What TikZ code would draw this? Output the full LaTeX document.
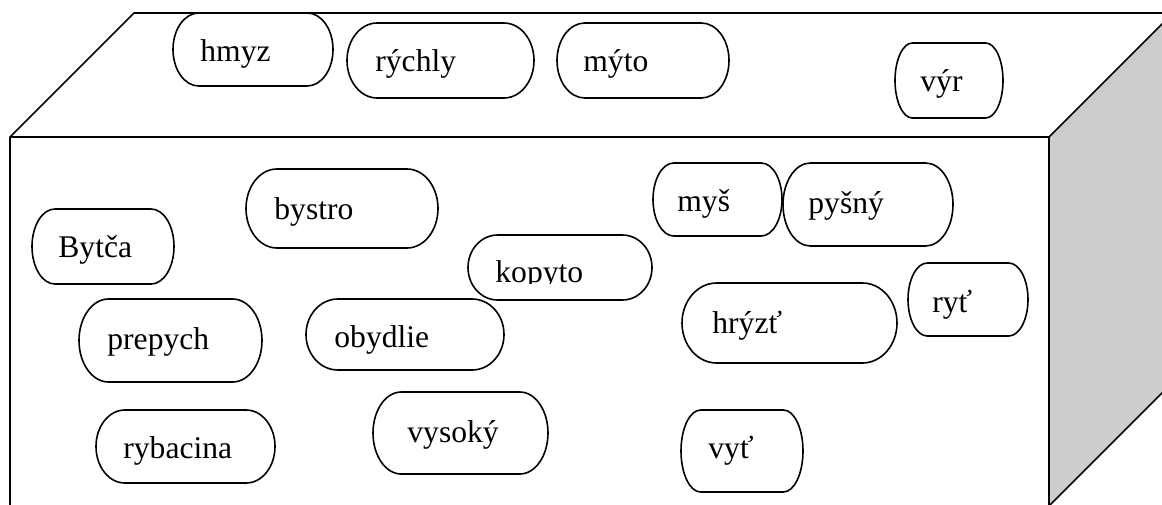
\documentclass[tikz,border=0pt]{standalone}
\usepackage{fontspec}
\setmainfont{Liberation Serif}
\usetikzlibrary{calc}
\tikzset{
  edge/.style={line width=0.8pt, line join=miter},
  sidegrey/.style={fill=black!20},
  termline/.style={line width=0.8pt},
  termbox/.style={inner sep=0pt, outer sep=0pt, draw=none, anchor=north west},
  wordtext/.style={inner sep=0pt, anchor=base west, font=\fontsize{15.8pt}{19pt}\selectfont},
}
% terminator outline around a named node
\newcommand\drawterm[1]{%
  \draw[termline] let \p1=(#1.north west), \p2=(#1.south east),
     \n1={0.161*(\x2-\x1)}, \n2={0.5*(\y1-\y2)} in
     ({\x1+\n1},\y1) -- ({\x2-\n1},\y1)
     arc[start angle=90, end angle=-90, x radius={\n1*1pt}, y radius={\n2*1pt}]
     -- ({\x1+\n1},\y2)
     arc[start angle=270, end angle=90, x radius={\n1*1pt}, y radius={\n2*1pt}]
     -- cycle;}
% name, x1, y1, x2, y2, text x, text baseline y, text
\newcommand\wordbox[8]{%
  \node[termbox, minimum width={0.5pt*(#4-#2)}, minimum height={0.5pt*(#5-#3)}] (#1) at (#2,#3) {};
  \drawterm{#1}
  \node[wordtext] (#1-t) at (#6,#7) {#8};}
\begin{document}
\begin{tikzpicture}[x=0.5pt,y=-0.5pt]
\useasboundingbox (0,0) rectangle (1162,504);
\clip (0,0) rectangle (1162,504);
% the box
\coordinate (FTL) at (10,137);
\coordinate (FTR) at (1049,137);
\coordinate (FBL) at (10,520);
\coordinate (FBR) at (1049,506);
\coordinate (BTL) at (134,13);
\coordinate (BTR) at (1173,13);
\coordinate (BBR) at (1173,382);
\fill[sidegrey] (FTR) -- (BTR) -- (BBR) -- (FBR) -- cycle;
\draw[edge] (FBL) -- (FTL) -- (BTL) -- (BTR);
\draw[edge] (FTL) -- (FTR) -- (BTR);
\draw[edge] (FTR) -- (FBR) -- (BBR);
% words on the top face
\wordbox{hmyz}{173}{13}{333}{86}{200}{61}{hmyz}
\wordbox{rychly}{347}{23}{534}{98}{375}{71}{rýchly}
\wordbox{myto}{557}{23}{729}{98}{583}{71}{mýto}
\wordbox{vyr}{895}{43}{1003}{118}{920}{91}{výr}
% words on the front face
\wordbox{bytca}{32}{209}{174}{284}{58}{257}{Bytča}
\wordbox{bystro}{246}{169}{438}{248}{274}{219}{bystro}
\node[termbox, minimum width={0.5pt*184}, minimum height={0.5pt*65}] (kopyto) at (468,235) {};
\drawterm{kopyto}
\begin{scope}
  \clip (0,0) rectangle (1162,283);
  \node[wordtext] (kopyto-t) at (495,282) {kopyto};
\end{scope}
\wordbox{mys}{653}{163}{782}{236}{677}{211}{myš}
\wordbox{pysny}{783}{163}{953}{246}{808}{213}{pyšný}
\wordbox{ryt}{908}{263}{1028}{336}{932}{312}{ryť}
\wordbox{hryzt}{682}{283}{897}{363}{712}{333}{hrýzť}
\wordbox{prepych}{79}{299}{262}{382}{107}{349}{prepych}
\wordbox{obydlie}{306}{299}{504}{370}{334}{347}{obydlie}
\wordbox{rybacina}{96}{410}{275}{483}{123}{458}{rybacina}
\wordbox{vysoky}{373}{392}{548}{474}{407}{442}{vysoký}
\wordbox{vyt}{681}{410}{803}{492}{708}{458}{vyť}
\end{tikzpicture}
\end{document}
